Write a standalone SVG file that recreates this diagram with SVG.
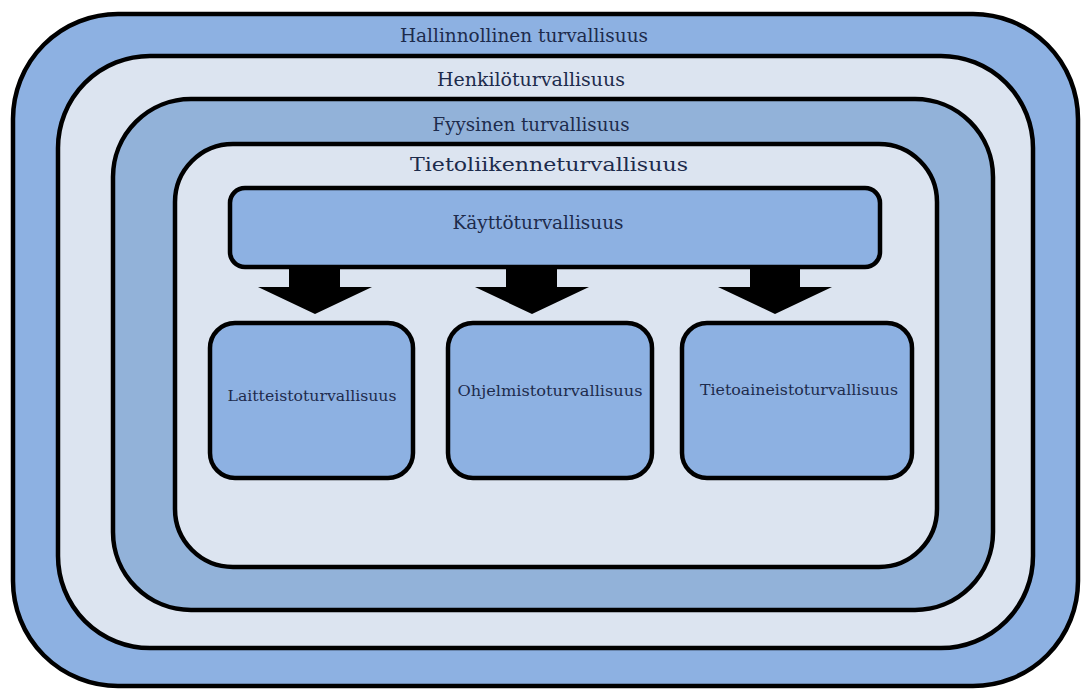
<svg xmlns="http://www.w3.org/2000/svg" width="1083" height="689" viewBox="0 0 1083 689">
<style>
.b{stroke:#000;stroke-width:4.5}
.mid{fill:#8db1e2}
.lt{fill:#dce4f0}
.gr{fill:#92b2d9}
.t{font-family:"DejaVu Serif","Liberation Serif",serif;fill:#1d2b4c;text-anchor:middle}
.s{font-size:18.5px}
.m{font-size:15px}
</style>
<rect width="1083" height="689" fill="#ffffff"/>
<g id="hallinnollinen">
<rect class="b mid" x="13" y="14" width="1065" height="672" rx="105" ry="105"/>
<text class="t s" x="524" y="42" textLength="248" lengthAdjust="spacingAndGlyphs">Hallinnollinen turvallisuus</text>
</g>
<g id="henkilo">
<rect class="b lt" x="58" y="56" width="975" height="592" rx="92" ry="92"/>
<text class="t s" x="531" y="86" textLength="188" lengthAdjust="spacingAndGlyphs">Henkilöturvallisuus</text>
</g>
<g id="fyysinen">
<rect class="b gr" x="113" y="99" width="880" height="511" rx="78" ry="78"/>
<text class="t s" x="531" y="131" textLength="197" lengthAdjust="spacingAndGlyphs">Fyysinen turvallisuus</text>
</g>
<g id="tietoliikenne">
<rect class="b lt" x="175" y="144" width="762" height="423" rx="58" ry="58"/>
<text class="t s" x="549" y="171" textLength="278" lengthAdjust="spacingAndGlyphs">Tietoliikenneturvallisuus</text>
</g>
<g id="kaytto">
<rect class="b mid" x="230" y="188" width="650" height="79" rx="15" ry="15"/>
<text class="t s" x="538" y="229" textLength="171" lengthAdjust="spacingAndGlyphs">Käyttöturvallisuus</text>
</g>
<g id="connectors" fill="#000">
<polygon points="289,267 340,267 340,287 372,287 315,314 258,287 289,287"/>
<polygon points="506,267 557,267 557,287 589,287 532,314 475,287 506,287"/>
<polygon points="750,267 800,267 800,287 832,287 775,314 718,287 750,287"/>
</g>
<g id="laitteisto">
<rect class="b mid" x="210" y="323" width="203" height="155" rx="25" ry="25"/>
<text class="t m" x="312" y="401" textLength="169" lengthAdjust="spacingAndGlyphs">Laitteistoturvallisuus</text>
</g>
<g id="ohjelmisto">
<rect class="b mid" x="448" y="323" width="204" height="155" rx="25" ry="25"/>
<text class="t m" x="550" y="396" textLength="185" lengthAdjust="spacingAndGlyphs">Ohjelmistoturvallisuus</text>
</g>
<g id="tietoaineisto">
<rect class="b mid" x="682" y="323" width="230" height="155" rx="25" ry="25"/>
<text class="t m" x="799" y="395" textLength="198" lengthAdjust="spacingAndGlyphs">Tietoaineistoturvallisuus</text>
</g>
</svg>
